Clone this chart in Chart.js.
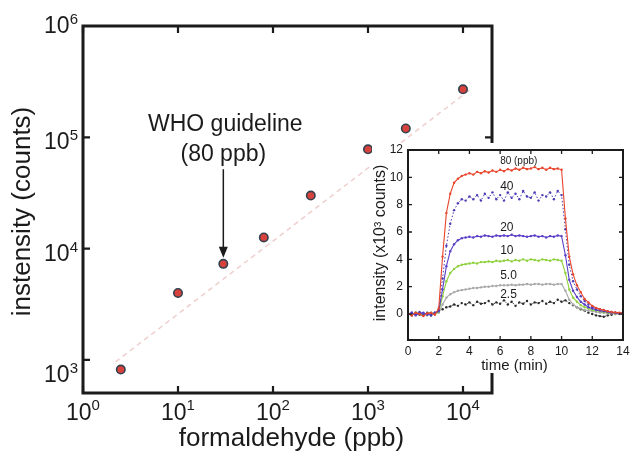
<!DOCTYPE html>
<html><head><meta charset="utf-8">
<script src="https://cdn.jsdelivr.net/npm/chart.js@4"></script>
<style>
html,body{margin:0;padding:0;background:#fff;}
#wrap{position:relative;width:634px;height:456px;overflow:hidden;background:#fff;}
#main{position:absolute;left:0;top:0;}
#inset{position:absolute;left:372px;top:143px;background:#fff;}
</style></head><body>
<div id="wrap">
<canvas id="main" width="634" height="456"></canvas>
<canvas id="inset" width="262" height="230"></canvas>
</div>
<script>
// ---------- main plot data ----------
const concentrationPpb = [2.5, 10, 30, 80, 250, 1000, 2500, 10000];
const intensityCounts = [820, 4000, 7300, 12600, 30000, 78000, 120000, 270000];
const fitLineX = [2.2, 12000];
const fitLineY = [960, 270000];
const mainXTicks = [1, 10, 100, 1000, 10000];
const mainXTickLabels = ['10^0', '10^1', '10^2', '10^3', '10^4'];
const mainYTicks = [1000, 10000, 100000, 1000000];
const mainYTickLabels = ['10^3', '10^4', '10^5', '10^6'];
const mainXTitle = 'formaldehyde (ppb)';
const mainYTitle = 'instensity (counts)';
const guidelineText = ['WHO guideline', '(80 ppb)'];

// ---------- inset data ----------
const timeMin = [0,0.25,0.5,0.75,1,1.25,1.5,1.75,2,2.25,2.5,2.75,3,3.25,3.5,3.75,4,4.25,4.5,4.75,5,5.25,5.5,5.75,6,6.25,6.5,6.75,7,7.25,7.5,7.75,8,8.25,8.5,8.75,9,9.25,9.5,9.75,10,10.25,10.5,10.75,11,11.25,11.5,11.75,12,12.25,12.5,12.75,13,13.25,13.5,13.75,14];
const series80 = [0.05,-0.1,0.1,0.0,-0.15,0.05,0.1,-0.05,0.4,4.2,7.4,8.8,9.6,9.9,10.1,10.2,10.3,10.2,10.4,10.3,10.45,10.35,10.5,10.4,10.55,10.45,10.6,10.5,10.65,10.55,10.7,10.6,10.65,10.75,10.6,10.7,10.55,10.7,10.6,10.65,10.55,7.0,4.2,2.9,2.1,1.6,1.1,0.85,0.6,0.45,0.35,0.3,0.2,0.15,0.12,0.1,0.05];
const series40 = [-0.1,0.1,0.0,0.15,-0.05,0.05,-0.1,0.1,0.3,2.6,5.0,6.6,7.6,8.1,8.4,8.3,8.6,8.4,8.7,8.3,8.8,8.5,8.9,8.4,8.7,8.3,8.9,8.5,8.8,8.4,9.0,8.6,8.5,8.9,8.3,8.7,8.6,8.9,8.4,9.0,8.7,6.2,3.6,2.4,1.8,1.3,0.95,0.7,0.5,0.4,0.35,0.25,0.2,0.15,0.1,0.05,0.1];
const series20 = [0.0,0.1,-0.1,0.05,0.1,-0.05,0.0,0.1,0.2,1.8,3.5,4.6,5.1,5.4,5.55,5.6,5.65,5.6,5.7,5.65,5.75,5.7,5.65,5.75,5.7,5.75,5.7,5.8,5.7,5.75,5.7,5.65,5.7,5.75,5.65,5.7,5.6,5.7,5.65,5.75,5.7,4.3,2.5,1.7,1.25,0.9,0.7,0.5,0.4,0.3,0.25,0.2,0.15,0.1,0.1,0.05,0.05];
const series10 = [0.05,-0.05,0.1,0.0,-0.1,0.05,0.1,0.0,0.15,1.3,2.4,3.0,3.3,3.5,3.6,3.65,3.7,3.75,3.7,3.8,3.8,3.85,3.8,3.9,3.85,3.9,3.95,3.85,3.95,3.9,4.0,3.9,4.0,3.95,3.9,4.0,3.95,3.9,4.0,3.95,3.9,3.0,1.8,1.2,0.9,0.65,0.5,0.4,0.3,0.25,0.2,0.15,0.1,0.1,0.05,0.05,0.0];
const series5 = [0.0,0.05,-0.05,0.1,0.0,-0.1,0.05,0.0,0.1,0.7,1.2,1.45,1.6,1.7,1.75,1.8,1.85,1.9,1.9,1.95,2.0,2.0,2.05,2.05,2.1,2.1,2.1,2.15,2.1,2.15,2.15,2.2,2.15,2.2,2.2,2.15,2.2,2.2,2.15,2.2,2.2,1.7,1.05,0.7,0.5,0.4,0.3,0.25,0.2,0.15,0.1,0.1,0.05,0.05,0.0,0.0,0.0];
const series2_5 = [0.05,-0.1,0.1,-0.05,0.0,0.1,-0.1,0.05,0.15,0.35,0.5,0.55,0.7,0.6,0.8,0.7,0.85,0.65,0.9,0.75,0.8,0.95,0.7,0.85,0.75,1.0,0.7,0.9,0.6,0.85,0.75,0.95,0.7,0.85,0.8,0.95,0.75,0.9,0.8,1.05,0.9,1.0,0.8,0.65,0.5,0.35,0.25,0.1,0.0,-0.1,-0.15,-0.2,-0.1,-0.05,0.0,0.05,0.0];
const insetSeriesLabels = ['80 (ppb)', '40', '20', '10', '5.0', '2.5'];
const insetXTicks = [0, 2, 4, 6, 8, 10, 12, 14];
const insetYTicks = [0, 2, 4, 6, 8, 10, 12];
const insetXTitle = 'time (min)';
const insetYTitle = 'intensity (x10³ counts)';

// ---------- drawing ----------
const FONT = '"Liberation Sans", Arial, Helvetica, sans-serif';
const INK = '#1b1b1b';
const zip = (xs, ys) => xs.map((x, i) => ({x: x, y: ys[i]}));

function supText(ctx, label, x, y, align, big, small, rise) {
  const parts = label.split('^');
  ctx.font = big + 'px ' + FONT;
  const wb = ctx.measureText(parts[0]).width;
  ctx.font = small + 'px ' + FONT;
  const we = ctx.measureText(parts[1]).width;
  const total = wb + we;
  const x0 = align === 'center' ? x - total / 2 : (align === 'right' ? x - total : x);
  ctx.textAlign = 'left';
  ctx.textBaseline = 'alphabetic';
  ctx.font = big + 'px ' + FONT;
  ctx.fillText(parts[0], x0, y);
  ctx.font = small + 'px ' + FONT;
  ctx.fillText(parts[1], x0 + wb, y - rise);
}

const mainDecor = {
  id: 'mainDecor',
  afterDatasetsDraw(chart) {
    const ctx = chart.ctx, a = chart.chartArea;
    const sx = chart.scales.x, sy = chart.scales.y;
    ctx.save();
    ctx.strokeStyle = INK; ctx.fillStyle = INK;
    ctx.lineWidth = 3;
    ctx.strokeRect(a.left, a.top, a.right - a.left, a.bottom - a.top);
    ctx.lineWidth = 2.2;
    ctx.beginPath();
    mainXTicks.forEach(v => {
      const px = sx.getPixelForValue(v);
      ctx.moveTo(px, a.bottom); ctx.lineTo(px, a.bottom - 7);
      ctx.moveTo(px, a.top); ctx.lineTo(px, a.top + 7);
    });
    mainYTicks.forEach(v => {
      const py = sy.getPixelForValue(v);
      ctx.moveTo(a.left, py); ctx.lineTo(a.left + 7, py);
      ctx.moveTo(a.right, py); ctx.lineTo(a.right - 7, py);
    });
    ctx.stroke();
    mainXTicks.forEach((v, i) => {
      supText(ctx, mainXTickLabels[i], sx.getPixelForValue(v), a.bottom + 27, 'center', 23, 15, 10);
    });
    const yNudge = [22, 12, 12, 7];
    mainYTicks.forEach((v, i) => {
      supText(ctx, mainYTickLabels[i], a.left - 5, sy.getPixelForValue(v) + yNudge[i], 'right', 23, 15, 9);
    });
    ctx.font = '26px ' + FONT;
    ctx.textAlign = 'center'; ctx.textBaseline = 'alphabetic';
    ctx.fillText(mainXTitle, (a.left + a.right) / 2 + 4, 446);
    ctx.save();
    ctx.translate(30, (a.top + a.bottom) / 2 + 2);
    ctx.rotate(-Math.PI / 2);
    ctx.fillText(mainYTitle, 0, 0);
    ctx.restore();
    const gx = sx.getPixelForValue(30);
    ctx.font = '23px ' + FONT;
    ctx.fillText(guidelineText[0], gx + 2, sy.getPixelForValue(113000));
    ctx.fillText(guidelineText[1], gx, sy.getPixelForValue(60800));
    const yTop = sy.getPixelForValue(51700), yTip = sy.getPixelForValue(8300);
    ctx.lineWidth = 1.5;
    ctx.beginPath(); ctx.moveTo(gx, yTop); ctx.lineTo(gx, yTip - 8); ctx.stroke();
    ctx.beginPath();
    ctx.moveTo(gx, yTip); ctx.lineTo(gx - 4.5, yTip - 11); ctx.lineTo(gx + 4.5, yTip - 11);
    ctx.closePath(); ctx.fill();
    ctx.restore();
  }
};

new Chart(document.getElementById('main'), {
  type: 'scatter',
  data: {
    datasets: [
      {
        data: zip(concentrationPpb, intensityCounts),
        pointRadius: 4.2,
        pointBackgroundColor: '#d8423c',
        pointBorderColor: '#33414f',
        pointBorderWidth: 1.6,
        showLine: false
      },
      {
        data: zip(fitLineX, fitLineY),
        showLine: true,
        borderColor: 'rgba(226,165,165,0.55)',
        borderWidth: 1.5,
        borderDash: [5, 4],
        pointRadius: 0
      }
    ]
  },
  options: {
    responsive: false,
    devicePixelRatio: 1,
    animation: false,
    events: [],
    layout: { padding: { left: 83, top: 26, right: 142, bottom: 63 } },
    plugins: { legend: { display: false }, tooltip: { enabled: false } },
    scales: {
      x: { type: 'logarithmic', min: 1, max: 20200, display: false },
      y: { type: 'logarithmic', min: 505, max: 1000000, display: false }
    }
  },
  plugins: [mainDecor]
});

const insetColors = ['#e8452c', '#4a3cb4', '#5a3ec8', '#8ed03c', '#a9a9a9', '#2a2a2a'];
const insetSeries = [series80, series40, series20, series10, series5, series2_5];
const insetLabelAnchors = [[6.0, 11.2], [6.0, 9.35], [6.0, 6.35], [6.0, 4.6], [6.0, 2.8], [6.0, 1.45]];

const insetDecor = {
  id: 'insetDecor',
  afterDatasetsDraw(chart) {
    const ctx = chart.ctx, a = chart.chartArea;
    const sx = chart.scales.x, sy = chart.scales.y;
    ctx.save();
    ctx.strokeStyle = INK; ctx.fillStyle = INK;
    ctx.lineWidth = 2;
    ctx.strokeRect(a.left, a.top, a.right - a.left, a.bottom - a.top);
    ctx.lineWidth = 1.3;
    ctx.beginPath();
    insetXTicks.forEach(v => {
      const px = sx.getPixelForValue(v);
      ctx.moveTo(px, a.bottom); ctx.lineTo(px, a.bottom - 4);
      ctx.moveTo(px, a.top); ctx.lineTo(px, a.top + 4);
    });
    insetYTicks.forEach(v => {
      const py = sy.getPixelForValue(v);
      ctx.moveTo(a.left, py); ctx.lineTo(a.left + 4, py);
      ctx.moveTo(a.right, py); ctx.lineTo(a.right - 4, py);
    });
    ctx.stroke();
    ctx.font = '12px ' + FONT;
    ctx.textAlign = 'center'; ctx.textBaseline = 'alphabetic';
    insetXTicks.forEach(v => ctx.fillText(String(v), sx.getPixelForValue(v), a.bottom + 15));
    ctx.textAlign = 'right'; ctx.textBaseline = 'middle';
    insetYTicks.forEach(v => ctx.fillText(String(v), a.left - 5, sy.getPixelForValue(v)));
    ctx.textAlign = 'left'; ctx.textBaseline = 'middle';
    insetSeriesLabels.forEach((t, i) => {
      ctx.font = (i === 0 ? 10 : 12) + 'px ' + FONT;
      ctx.fillText(t, sx.getPixelForValue(insetLabelAnchors[i][0]), sy.getPixelForValue(insetLabelAnchors[i][1]));
    });
    ctx.font = '15px ' + FONT;
    ctx.textAlign = 'center'; ctx.textBaseline = 'alphabetic';
    ctx.fillText(insetXTitle, (a.left + a.right) / 2 - 1, a.bottom + 30);
    ctx.font = '16px ' + FONT;
    ctx.save();
    ctx.translate(13, (a.top + a.bottom) / 2 - 2);
    ctx.rotate(-Math.PI / 2);
    ctx.fillText(insetYTitle, 0, 0);
    ctx.restore();
    ctx.restore();
  }
};

new Chart(document.getElementById('inset'), {
  type: 'scatter',
  data: {
    datasets: insetSeries.map((s, i) => ({
      label: insetSeriesLabels[i],
      data: zip(timeMin, s),
      showLine: true,
      borderColor: insetColors[i],
      backgroundColor: insetColors[i],
      borderWidth: (i === 1 || i === 5) ? 1 : 1.1,
      borderDash: (i === 1 || i === 5) ? [1.5, 2] : [],
      pointRadius: 1.2,
      pointBorderWidth: 0
    }))
  },
  options: {
    responsive: false,
    devicePixelRatio: 1,
    animation: false,
    events: [],
    layout: { padding: { left: 36, top: 7, right: 11, bottom: 33 } },
    plugins: { legend: { display: false }, tooltip: { enabled: false } },
    scales: {
      x: { type: 'linear', min: 0, max: 14, display: false },
      y: { type: 'linear', min: -1.9, max: 12, display: false }
    }
  },
  plugins: [insetDecor]
});
</script>
</body></html>
